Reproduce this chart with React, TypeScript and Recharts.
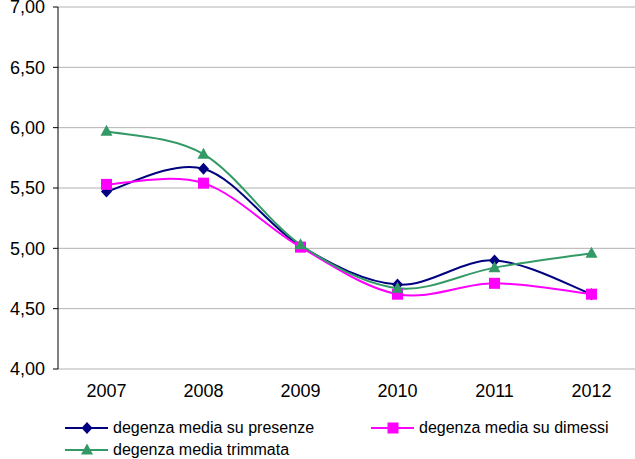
import { LineChart, Line, XAxis, YAxis, CartesianGrid } from 'recharts'

const years = ['2007', '2008', '2009', '2010', '2011', '2012']
const presenze = [5.47, 5.66, 5.02, 4.7, 4.9, 4.62]
const dimessi = [5.53, 5.54, 5.01, 4.62, 4.71, 4.62]
const trimmata = [5.97, 5.78, 5.03, 4.67, 4.84, 4.96]
const yTicks = [4, 4.5, 5, 5.5, 6, 6.5, 7]
const boundaryTicks = [0, 1, 2, 3, 4, 5, 6]

const data = years.map((y, i) => ({
  year: y,
  pos: i + 0.5,
  presenze: presenze[i],
  dimessi: dimessi[i],
  trimmata: trimmata[i],
}))

const NAVY = '#000080'
const MAGENTA = '#ff00ff'
const GREEN = '#339966'
const FONT = '"Liberation Sans", Arial, sans-serif'

// excel-like smoothed line (catmull-rom through the points)
function smooth(context: any) {
  let pts: [number, number][] = []
  return {
    areaStart() {},
    areaEnd() {},
    lineStart() {
      pts = []
    },
    lineEnd() {
      if (!pts.length) return
      context.moveTo(pts[0][0], pts[0][1])
      const t = 1 / 6
      for (let i = 0; i < pts.length - 1; i++) {
        const p0 = pts[Math.max(i - 1, 0)]
        const p1 = pts[i]
        const p2 = pts[i + 1]
        const p3 = pts[Math.min(i + 2, pts.length - 1)]
        context.bezierCurveTo(
          p1[0] + (p2[0] - p0[0]) * t,
          p1[1] + (p2[1] - p0[1]) * t,
          p2[0] - (p3[0] - p1[0]) * t,
          p2[1] - (p3[1] - p1[1]) * t,
          p2[0],
          p2[1]
        )
      }
    },
    point(x: number, y: number) {
      pts.push([+x, +y])
    },
  }
}

const Diamond = ({ cx, cy, fill }: any) =>
  cx == null ? null : (
    <path d={`M${cx},${cy - 6}L${cx + 5.5},${cy}L${cx},${cy + 6}L${cx - 5.5},${cy}Z`} fill={fill} />
  )
const Square = ({ cx, cy, fill }: any) =>
  cx == null ? null : <rect x={cx - 5.5} y={cy - 5.5} width={11} height={11} fill={fill} />
const Triangle = ({ cx, cy, fill }: any) =>
  cx == null ? null : (
    <path d={`M${cx},${cy - 6.5}L${cx + 6},${cy + 4.5}L${cx - 6},${cy + 4.5}Z`} fill={fill} />
  )

function LegendItem({ color, marker, label, left, top }: any) {
  return (
    <div style={{ position: 'absolute', left, top, display: 'flex', alignItems: 'center', height: 18 }}>
      <svg width={43} height={14} style={{ display: 'block' }}>
        <line x1={0} y1={7} x2={43} y2={7} stroke={color} strokeWidth={2} />
        {marker === 'diamond' && <Diamond cx={22} cy={7} fill={color} />}
        {marker === 'square' && <Square cx={22} cy={7} fill={color} />}
        {marker === 'triangle' && <Triangle cx={22} cy={7} fill={color} />}
      </svg>
      <span style={{ marginLeft: 5, fontSize: 16, color: '#000', whiteSpace: 'nowrap' }}>{label}</span>
    </div>
  )
}

export default function App() {
  return (
    <div
      style={{
        position: 'absolute',
        left: 0,
        top: 0,
        width: 635,
        height: 459,
        overflow: 'hidden',
        background: '#fff',
        fontFamily: FONT,
      }}
    >
      <LineChart width={642} height={459} data={data} margin={{ top: 7, right: 2, left: 0, bottom: 60 }}>
        <CartesianGrid vertical={false} stroke="#b3b3b3" strokeWidth={1} xAxisId="cat" />
        <XAxis
          xAxisId="grid"
          type="number"
          dataKey="pos"
          domain={[0, 6]}
          ticks={boundaryTicks}
          tick={false}
          tickSize={5}
          height={0}
          axisLine={{ stroke: '#000' }}
          tickLine={{ stroke: '#000' }}
        />
        <XAxis
          xAxisId="cat"
          dataKey="year"
          scale="band"
          axisLine={false}
          tickLine={false}
          height={30}
          tick={{ fontSize: 18, fill: '#000', fontFamily: FONT }}
          tickMargin={9}
        />
        <YAxis
          domain={[4, 7]}
          ticks={yTicks}
          width={58}
          tickSize={5}
          tickMargin={8}
          interval={0}
          axisLine={{ stroke: '#000' }}
          tickLine={{ stroke: '#000' }}
          tick={{ fontSize: 18, fill: '#000', fontFamily: FONT }}
          tickFormatter={(v: number) => v.toFixed(2).replace('.', ',')}
        />
        <Line
          xAxisId="cat"
          dataKey="presenze"
          type={smooth as any}
          stroke={NAVY}
          strokeWidth={2}
          dot={<Diamond fill={NAVY} />}
          isAnimationActive={false}
        />
        <Line
          xAxisId="cat"
          dataKey="dimessi"
          type={smooth as any}
          stroke={MAGENTA}
          strokeWidth={2}
          dot={<Square fill={MAGENTA} />}
          isAnimationActive={false}
        />
        <Line
          xAxisId="cat"
          dataKey="trimmata"
          type={smooth as any}
          stroke={GREEN}
          strokeWidth={2}
          dot={<Triangle fill={GREEN} />}
          isAnimationActive={false}
        />
      </LineChart>
      <LegendItem color={NAVY} marker="diamond" label="degenza media su presenze" left={65} top={419} />
      <LegendItem color={MAGENTA} marker="square" label="degenza media su dimessi" left={371} top={419} />
      <LegendItem color={GREEN} marker="triangle" label="degenza media trimmata" left={65} top={441} />
    </div>
  )
}
